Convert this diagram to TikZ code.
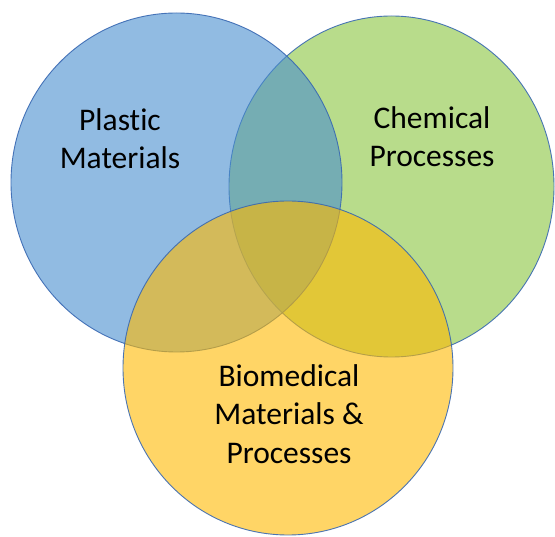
\documentclass[tikz,border=0pt]{standalone}
\usepackage{fontspec}
\setmainfont{Carlito}[Ligatures=NoCommon]
\usetikzlibrary{shapes.geometric}
\definecolor{vgreen}{RGB}{137,198,62}
\definecolor{vblue}{RGB}{73,142,207}
\definecolor{vyellow}{RGB}{255,186,0}
\definecolor{vline}{RGB}{56,104,178}
\tikzset{
  venn/.style={ellipse, draw=vline, line width=0.9pt, fill opacity=0.6, draw opacity=0.9, inner sep=0pt, outer sep=0pt},
  lbl/.style={align=center, inner sep=0pt, font=\fontsize{31.5}{38.5}\selectfont, text=black}
}
\begin{document}
\begin{tikzpicture}[x=1pt,y=-1pt]
\useasboundingbox (0,0) rectangle (555,537);
\fill[white] (0,0) rectangle (555,537);
\node[venn, fill=vgreen, minimum width=325pt, minimum height=341pt] (chem) at (391.5,186.5) {};
\node[venn, fill=vblue, minimum width=331pt, minimum height=339pt] (plast) at (176.5,182.5) {};
\node[venn, fill=vyellow, minimum width=330pt, minimum height=334pt] (bio) at (288,368) {};
\node[lbl] (tplast) at (120,138.5) {Plastic\\Materials};
\node[lbl] (tchem) at (432,136.5) {Chemical\\Processes};
\node[lbl] (tbio) at (289,414) {Biomedical\\Materials \&\\Processes};
\end{tikzpicture}
\end{document}
